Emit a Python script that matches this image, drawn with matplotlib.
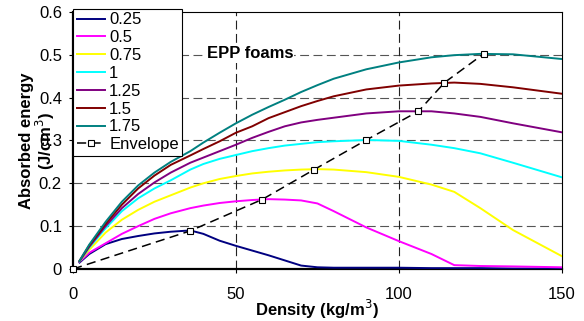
import matplotlib
matplotlib.use('Agg')
import matplotlib.pyplot as plt

plt.rcParams['font.family'] = ['Liberation Sans', 'DejaVu Sans']

density = [2, 5, 10, 15, 20, 25, 30, 36, 40, 45, 50, 55, 60, 65, 70, 75, 80,
           90, 100, 110, 117, 125, 135, 150]

e025 = [0.015, 0.035, 0.058, 0.070, 0.077, 0.083, 0.087, 0.090, 0.082, 0.066,
        0.054, 0.043, 0.032, 0.020, 0.008, 0.004, 0.003, 0.003, 0.003, 0.002,
        0.002, 0.002, 0.001, 0.001]
e05 = [0.017, 0.038, 0.060, 0.082, 0.100, 0.117, 0.130, 0.142, 0.148, 0.154,
       0.158, 0.161, 0.163, 0.162, 0.160, 0.153, 0.135, 0.097, 0.065, 0.035,
       0.009, 0.007, 0.006, 0.004]
e075 = [0.018, 0.045, 0.085, 0.115, 0.138, 0.157, 0.172, 0.190, 0.200, 0.210,
        0.217, 0.223, 0.227, 0.230, 0.232, 0.233, 0.232, 0.226, 0.215, 0.197,
        0.180, 0.142, 0.091, 0.030]
e1 = [0.018, 0.050, 0.095, 0.135, 0.165, 0.188, 0.207, 0.232, 0.245, 0.257,
      0.266, 0.275, 0.282, 0.288, 0.292, 0.296, 0.298, 0.301, 0.299, 0.290,
      0.282, 0.270, 0.248, 0.214]
e125 = [0.018, 0.052, 0.100, 0.142, 0.175, 0.202, 0.225, 0.248, 0.260, 0.275,
        0.290, 0.306, 0.320, 0.333, 0.342, 0.348, 0.353, 0.363, 0.368, 0.368,
        0.363, 0.355, 0.340, 0.319]
e15 = [0.019, 0.055, 0.105, 0.150, 0.188, 0.218, 0.243, 0.265, 0.280, 0.298,
       0.318, 0.333, 0.352, 0.366, 0.380, 0.392, 0.403, 0.419, 0.428, 0.433,
       0.435, 0.432, 0.424, 0.409]
e175 = [0.019, 0.057, 0.110, 0.157, 0.195, 0.225, 0.250, 0.275, 0.295, 0.318,
        0.340, 0.360, 0.378, 0.395, 0.413, 0.429, 0.444, 0.466, 0.482, 0.494,
        0.499, 0.502, 0.501, 0.490]

env_x = [0, 36, 58, 74, 90, 106, 114, 126]
env_y = [0, 0.089, 0.162, 0.232, 0.301, 0.368, 0.435, 0.502]

labels = ['0.25', '0.5', '0.75', '1', '1.25', '1.5', '1.75']
colors = ['#000080', '#FF00FF', '#FFFF00', '#00FFFF', '#800080', '#800000', '#008080']
series = [e025, e05, e075, e1, e125, e15, e175]

x_ticks = [0, 50, 100, 150]
y_ticks = [0, 0.1, 0.2, 0.3, 0.4, 0.5, 0.6]
y_tick_labels = ['0', '0.1', '0.2', '0.3', '0.4', '0.5', '0.6']

fig = plt.figure(figsize=(5.84, 3.21), dpi=100)
ax = fig.add_axes([0.125, 0.162, 0.837, 0.801])

for yv in y_ticks[1:-1]:
    ax.axhline(yv, color='#555555', lw=0.8, ls=(0, (8, 4)), zorder=1)
for xv in x_ticks[1:-1]:
    ax.axvline(xv, color='#222222', lw=0.8, ls=(0, (8, 4)), zorder=1)

for vals, c, lab in zip(series, colors, labels):
    ax.plot(density, vals, color=c, lw=1.4, label=lab, zorder=3)

ax.plot(env_x, env_y, color='black', lw=1.1, ls=(0, (6, 3.5)), marker='s',
        markersize=5, markerfacecolor='white', markeredgecolor='black',
        markeredgewidth=0.8, label='Envelope', zorder=4, clip_on=False)

ax.text(41, 0.502, 'EPP foams', fontsize=12, fontweight='bold', va='center',
        ha='left', zorder=2,
        bbox=dict(facecolor='white', edgecolor='none', pad=1))

ax.set_xlim(0, 150)
ax.set_ylim(0, 0.6)
ax.set_xticks(x_ticks)
ax.set_yticks(y_ticks)
ax.set_yticklabels(y_tick_labels)
ax.tick_params(direction='out', length=3, width=0.8, labelsize=12)
ax.tick_params(axis='x', pad=10)
ax.tick_params(axis='y', pad=5)

for s in ['left', 'bottom']:
    ax.spines[s].set_linewidth(1.6)
for s in ['top', 'right']:
    ax.spines[s].set_linewidth(0.8)

ax.set_xlabel('Density (kg/m$^3$)', fontsize=12, fontweight='bold', labelpad=-3)
fig.text(38 / 584, 0.56, 'Absorbed energy\n(J/cm$^3$)', rotation=90,
         ha='center', va='center', fontsize=12, fontweight='bold',
         multialignment='center', linespacing=1.0)

leg = ax.legend(loc='upper left', bbox_to_anchor=(0, 1.012), borderaxespad=0,
                fontsize=12, frameon=True, fancybox=False, framealpha=1,
                edgecolor='black', handlelength=1.7, handletextpad=0.25,
                labelspacing=0.17, borderpad=0.22)
leg.get_frame().set_linewidth(0.8)
leg.set_zorder(10)

fig.savefig('out.png', dpi=100)
